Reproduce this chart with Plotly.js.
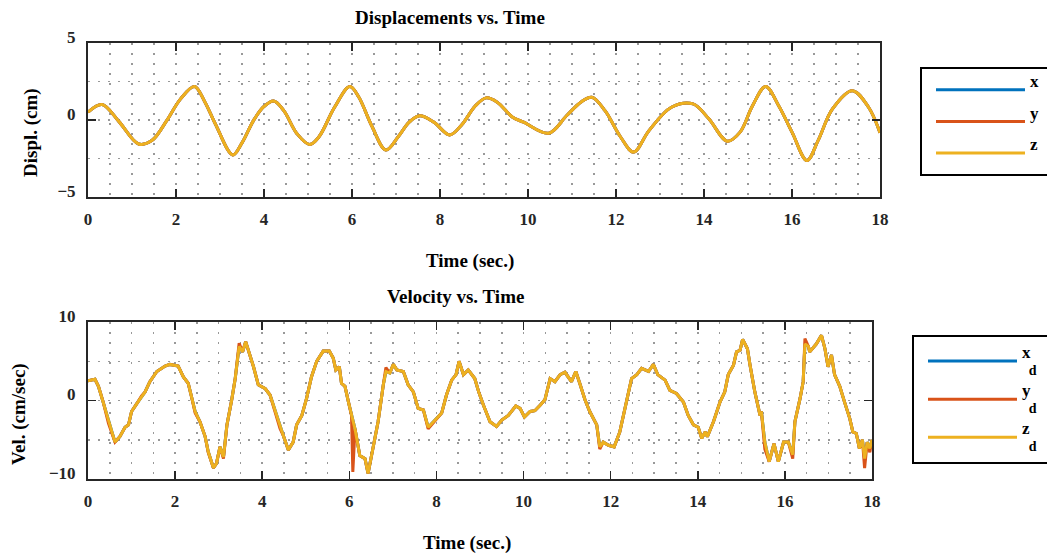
<!DOCTYPE html>
<html>
<head>
<meta charset="utf-8">
<script src="https://cdn.plot.ly/plotly-3.0.1.min.js"></script>
<style>html,body{margin:0;padding:0;background:#fff;}#chart{width:1047px;height:557px;}</style>
</head>
<body>
<div id="chart"></div>
<script>
// ---- Displacement data (cm) ----
var tDisp = [0,0.32,0.7,1.15,1.45,1.8,2.1,2.42,2.65,2.9,3.29,3.5,3.77,4.0,4.22,4.45,4.75,5.04,5.25,5.6,5.95,6.15,6.45,6.77,7.05,7.3,7.54,7.86,8.22,8.5,8.8,9.05,9.3,9.65,9.9,10.47,10.88,11.2,11.45,11.75,12.1,12.4,12.75,13.26,13.75,14.1,14.53,14.82,15.1,15.4,15.7,16.0,16.34,16.6,16.92,17.37,17.74,18.0];
var dispX = [0.5,1.0,-0.1,-1.57,-1.35,0.0,1.35,2.17,1.2,-0.3,-2.28,-1.5,0.0,0.87,1.22,0.6,-0.9,-1.6,-1.1,0.8,2.17,1.5,-0.4,-1.96,-1.1,-0.15,0.26,-0.15,-0.98,-0.3,0.9,1.43,1.15,0.17,-0.15,-0.87,0.28,1.15,1.47,0.6,-1.1,-2.1,-0.7,0.82,1.04,0.1,-1.39,-0.8,0.9,2.17,0.9,-0.8,-2.64,-1.3,0.71,1.9,0.82,-0.84];
var dispY = [0.5,1.0,-0.1,-1.57,-1.35,0.0,1.35,2.17,1.2,-0.3,-2.28,-1.5,0.0,0.87,1.22,0.6,-0.9,-1.6,-1.1,0.8,2.17,1.5,-0.4,-1.96,-1.1,-0.15,0.26,-0.15,-0.98,-0.3,0.9,1.43,1.15,0.17,-0.15,-0.87,0.28,1.15,1.47,0.6,-1.1,-2.1,-0.7,0.82,1.04,0.1,-1.39,-0.8,0.9,2.17,0.9,-0.8,-2.64,-1.3,0.71,1.9,0.82,-0.84];
var dispZ = [0.5,1.0,-0.1,-1.57,-1.35,0.0,1.35,2.17,1.2,-0.3,-2.28,-1.5,0.0,0.87,1.22,0.6,-0.9,-1.6,-1.1,0.8,2.17,1.5,-0.4,-1.96,-1.1,-0.15,0.26,-0.15,-0.98,-0.3,0.9,1.43,1.15,0.17,-0.15,-0.87,0.28,1.15,1.47,0.6,-1.1,-2.1,-0.7,0.82,1.04,0.1,-1.39,-0.8,0.9,2.17,0.9,-0.8,-2.64,-1.3,0.71,1.9,0.82,-0.84];

// ---- Velocity data (cm/sec) ----
var tVel = [0,0.16,0.24,0.35,0.47,0.62,0.73,0.85,0.93,1.0,1.12,1.23,1.31,1.42,1.58,1.77,1.88,2.07,2.19,2.3,2.38,2.46,2.57,2.69,2.76,2.88,2.95,3.03,3.11,3.19,3.3,3.38,3.47,3.55,3.62,3.72,3.8,3.91,4.07,4.18,4.3,4.41,4.48,4.6,4.71,4.79,4.91,5.02,5.13,5.25,5.4,5.54,5.63,5.69,5.77,5.82,5.9,5.98,6.05,6.08,6.13,6.24,6.36,6.43,6.55,6.66,6.78,6.84,6.93,7.01,7.09,7.24,7.35,7.47,7.58,7.7,7.81,8.0,8.12,8.23,8.35,8.45,8.52,8.62,8.73,8.88,8.97,9.08,9.23,9.38,9.5,9.65,9.82,9.92,10.02,10.15,10.26,10.38,10.49,10.61,10.72,10.84,10.95,11.1,11.2,11.29,11.41,11.52,11.68,11.75,11.83,11.95,12.08,12.21,12.33,12.48,12.6,12.71,12.87,12.98,13.08,13.25,13.36,13.51,13.67,13.78,13.9,14.01,14.09,14.17,14.22,14.36,14.51,14.62,14.7,14.82,14.89,14.97,15.03,15.14,15.2,15.31,15.43,15.46,15.54,15.64,15.75,15.85,15.97,16.08,16.18,16.23,16.35,16.42,16.46,16.54,16.57,16.72,16.84,16.92,16.99,17.07,17.14,17.26,17.37,17.49,17.56,17.64,17.71,17.78,17.83,17.89,17.95,18.0];
var velX = [2.5,2.7,1.8,-0.2,-2.7,-5.3,-4.6,-3.4,-3.1,-1.4,-0.4,0.5,1.1,2.4,3.7,4.4,4.6,4.4,3.0,2.2,0.5,-1.4,-2.7,-4.6,-6.5,-8.6,-8.0,-5.9,-7.2,-3.1,0.1,2.8,6.9,6.2,7.5,5.8,4.3,2.0,1.5,0.7,-1.4,-3.3,-4.4,-6.3,-5.3,-3.1,-1.9,0.3,3.0,5.0,6.3,6.3,5.4,3.9,4.3,2.2,1.8,-0.2,-1.9,-2.6,-3.6,-7.0,-7.4,-9.3,-6.1,-2.7,2.0,3.7,3.5,4.6,3.9,3.7,2.0,1.1,-1.0,-1.2,-3.4,-2.3,-1.6,0.7,2.6,3.3,5.0,3.3,3.9,2.8,1.1,-0.6,-2.7,-3.3,-2.5,-1.9,-0.7,-1.0,-2.1,-1.4,-1.3,-0.6,0.1,2.8,2.4,3.3,3.6,2.4,3.7,2.2,0.1,-1.4,-3.1,-5.9,-5.3,-5.7,-5.9,-4.0,-1.0,2.8,3.3,4.1,3.7,4.6,3.3,2.6,1.3,0.9,-0.2,-1.9,-3.1,-3.4,-4.8,-4.0,-4.6,-2.7,-0.2,1.1,3.3,4.5,6.2,6.4,7.8,6.6,4.5,1.1,-1.9,-1.4,-5.3,-7.8,-5.5,-7.8,-5.3,-5.3,-6.9,-2.7,0.3,2.4,7.2,6.9,6.2,7.2,8.3,6.6,4.3,5.8,3.3,1.8,-0.2,-2.3,-4.0,-4.2,-6.1,-5.0,-7.4,-5.3,-6.1,-5.0];
var velY = [2.5,2.7,1.8,-0.2,-2.9,-5.3,-4.6,-3.4,-3.1,-1.4,-0.4,0.6,1.1,2.4,3.7,4.4,4.6,4.4,3.0,2.2,0.4,-1.6,-2.7,-4.6,-6.6,-8.6,-8.0,-5.9,-7.4,-3.1,0.1,2.8,7.3,6.2,7.5,5.8,4.3,2.0,1.5,0.7,-1.6,-3.6,-4.4,-6.3,-5.3,-3.1,-1.9,0.3,3.0,5.0,6.3,6.3,5.4,3.9,4.3,2.2,1.8,-0.2,-1.9,-9.1,-3.6,-7.0,-7.4,-9.3,-6.1,-2.7,2.0,4.2,3.5,4.6,3.9,3.7,2.0,1.1,-1.0,-1.2,-3.6,-2.3,-1.6,0.7,2.6,3.3,5.0,3.3,3.9,2.8,1.1,-0.6,-2.7,-3.3,-2.5,-1.9,-0.7,-1.0,-2.1,-1.4,-1.3,-0.6,0.1,2.8,2.4,3.3,3.6,2.4,3.7,2.2,0.1,-1.4,-3.1,-6.2,-5.3,-5.7,-5.9,-4.0,-1.0,2.8,3.3,4.1,3.7,4.6,3.3,2.6,1.3,0.9,-0.2,-1.9,-3.1,-3.4,-4.8,-4.0,-4.6,-2.7,-0.2,1.1,3.3,4.5,6.2,6.4,7.8,6.6,4.5,1.1,-1.9,-1.4,-6.2,-7.8,-5.5,-7.8,-5.3,-5.3,-7.4,-2.7,0.3,2.4,7.9,6.9,6.2,7.2,8.3,6.6,4.3,5.8,3.3,1.8,-0.2,-2.3,-4.0,-4.2,-6.1,-5.0,-8.6,-5.3,-6.6,-5.0];
var velZ = [2.5,2.7,1.8,-0.2,-2.7,-5.3,-4.6,-3.4,-3.1,-1.4,-0.4,0.5,1.1,2.4,3.7,4.4,4.6,4.4,3.0,2.2,0.5,-1.4,-2.7,-4.6,-6.5,-8.6,-8.0,-5.9,-7.2,-3.1,0.1,2.8,6.9,6.2,7.5,5.8,4.3,2.0,1.5,0.7,-1.4,-3.3,-4.4,-6.3,-5.3,-3.1,-1.9,0.3,3.0,5.0,6.3,6.3,5.4,3.9,4.3,2.2,1.8,-0.2,-1.9,-2.6,-3.6,-7.0,-7.4,-9.3,-6.1,-2.7,2.0,3.7,3.5,4.6,3.9,3.7,2.0,1.1,-1.0,-1.2,-3.4,-2.3,-1.6,0.7,2.6,3.3,5.0,3.3,3.9,2.8,1.1,-0.6,-2.7,-3.3,-2.5,-1.9,-0.7,-1.0,-2.1,-1.4,-1.3,-0.6,0.1,2.8,2.4,3.3,3.6,2.4,3.7,2.2,0.1,-1.4,-3.1,-5.9,-5.3,-5.7,-5.9,-4.0,-1.0,2.8,3.3,4.1,3.7,4.6,3.3,2.6,1.3,0.9,-0.2,-1.9,-3.1,-3.4,-4.8,-4.0,-4.6,-2.7,-0.2,1.1,3.3,4.5,6.2,6.4,7.8,6.6,4.5,1.1,-1.9,-1.4,-5.3,-7.8,-5.5,-7.8,-5.3,-5.3,-6.9,-2.7,0.3,2.4,7.2,6.9,6.2,7.2,8.3,6.6,4.3,5.8,3.3,1.8,-0.2,-2.3,-4.0,-4.2,-6.1,-5.0,-7.4,-5.3,-6.1,-5.0];

// ---- Labels ----
var dispNames = ['x', 'y', 'z'];
var velNames = ['x', 'y', 'z'];
var seriesColors = ['#0072BD', '#D95319', '#EDB120'];

var FONT = 'Liberation Serif, Times New Roman, serif';
var INK = '#262626';

function dispName(n) {
  return '<span style="font-size:17px">' + n + '</span>&nbsp;&nbsp;&nbsp;&nbsp;&nbsp;&nbsp;<br> ';
}
function velName(n) {
  return '<span style="font-size:17px">' + n + '</span><br>&nbsp;&nbsp;<span style="font-size:14px">d</span>&nbsp;&nbsp;&nbsp;&nbsp;&nbsp;&nbsp;';
}

var dispSeries = [dispX, dispY, dispZ];
var velSeries = [velX, velY, velZ];
var traces = [];
for (var i = 0; i < 3; i++) {
  traces.push({
    x: tDisp, y: dispSeries[i], type: 'scatter', mode: 'lines',
    line: {color: seriesColors[i], width: 3, shape: 'spline', smoothing: 1},
    name: dispName(dispNames[i]), xaxis: 'x', yaxis: 'y', legend: 'legend'
  });
}
for (var j = 0; j < 3; j++) {
  traces.push({
    x: tVel, y: velSeries[j], type: 'scatter', mode: 'lines',
    line: {color: seriesColors[j], width: 3},
    name: velName(velNames[j]), xaxis: 'x2', yaxis: 'y2', legend: 'legend2'
  });
}

var gridDash = '2px,8px';
var gridCol = '#999999';
function xAxis(anchor, domain) {
  return {
    anchor: anchor, domain: domain, range: [0, 18], dtick: 2, tick0: 0,
    ticks: 'inside', ticklen: 8, tickwidth: 1.5, tickcolor: INK,
    mirror: 'ticks', showline: true, linewidth: 2, linecolor: INK,
    showgrid: true, gridcolor: gridCol, griddash: gridDash, gridwidth: 1.5,
    minor: {dtick: 0.5, showgrid: true, gridcolor: gridCol, griddash: gridDash, gridwidth: 1.5},
    zeroline: false, fixedrange: true,
    tickfont: {family: FONT, size: 17, color: INK, weight: 'bold'},
    ticklabelstandoff: 6
  };
}
function yAxis(anchor, domain, range, dtick, minor) {
  return {
    anchor: anchor, domain: domain, range: range, dtick: dtick, tick0: 0,
    ticks: 'inside', ticklen: 8, tickwidth: 1.5, tickcolor: INK,
    mirror: 'ticks', showline: true, linewidth: 2, linecolor: INK,
    showgrid: true, gridcolor: gridCol, griddash: gridDash, gridwidth: 1.5,
    minor: {dtick: minor, showgrid: true, gridcolor: gridCol, griddash: gridDash, gridwidth: 1.5},
    zeroline: false, fixedrange: true,
    tickfont: {family: FONT, size: 17, color: INK, weight: 'bold'},
    ticklabelstandoff: 7, ticklabelshift: -6
  };
}

function px2x(px) { return (px - 88) / 792; }
function py2y(py) { return (479 - py) / 436; }

var annFont = {family: FONT, size: 19, color: '#000', weight: 'bold'};
function ann(text, px, py, angle) {
  return {text: '<b>' + text + '</b>', x: px2x(px), y: py2y(py), xref: 'paper', yref: 'paper',
          xanchor: 'center', yanchor: 'middle', showarrow: false, font: annFont, textangle: angle || 0};
}

var legendCommon = {
  bgcolor: '#ffffff', bordercolor: '#000000', borderwidth: 2,
  font: {family: FONT, size: 11, color: '#000', weight: 'bold'},
  itemwidth: 89, xanchor: 'left', yanchor: 'top', traceorder: 'normal',
  indentation: 9,
  itemclick: false, itemdoubleclick: false
};

var layout = {
  width: 1047, height: 557,
  margin: {l: 88, r: 167, t: 43, b: 78, autoexpand: false},
  paper_bgcolor: '#ffffff', plot_bgcolor: '#ffffff',
  showlegend: true,
  xaxis: xAxis('y', [0, 1]),
  yaxis: yAxis('x', [0.6475, 1], [-5, 5], 5, 2.5),
  xaxis2: xAxis('y2', [0, 0.9899]),
  yaxis2: yAxis('x2', [0, 0.36], [-10, 10], 10, 5),
  legend: Object.assign({}, legendCommon, {x: px2x(920), y: py2y(67)}),
  legend2: Object.assign({}, legendCommon, {x: px2x(912), y: py2y(335), font: {family: FONT, size: 13.5, color: '#000', weight: 'bold'}}),
  annotations: [
    ann('Displacements vs. Time', 450, 17),
    ann('Time (sec.)', 470, 261),
    ann('Displ. (cm)', 31, 132, -90),
    ann('Velocity vs. Time', 455, 296),
    ann('Time (sec.)', 467, 543),
    ann('Vel. (cm/sec)', 19, 414, -90)
  ]
};

Plotly.newPlot('chart', traces, layout, {staticPlot: true, displayModeBar: false});
</script>
</body>
</html>
